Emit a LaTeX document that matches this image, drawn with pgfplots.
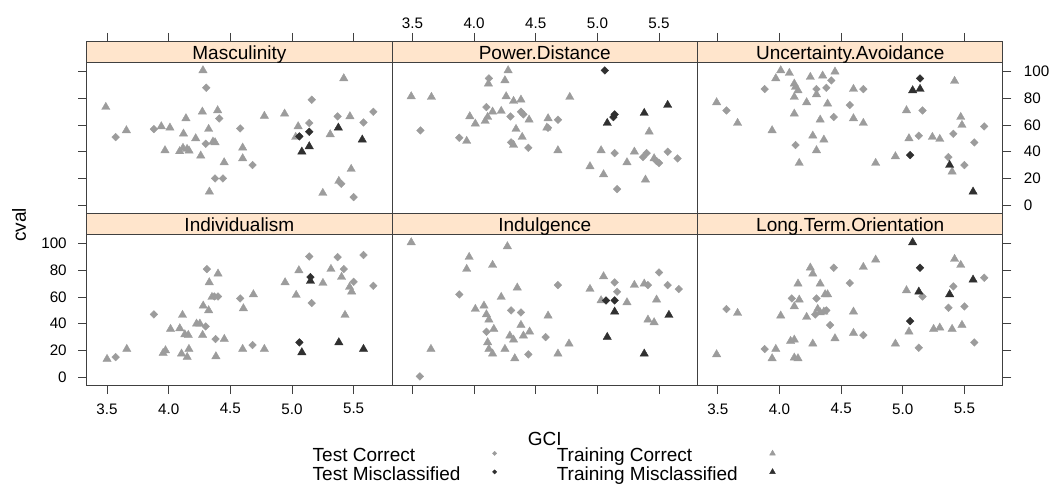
\documentclass[border=0pt]{standalone}
\usepackage{fontspec}
\setmainfont{Liberation Sans}
\usepackage{pgfplots}
\pgfplotsset{compat=1.18}

\definecolor{ptgrey}{HTML}{9C9C9C}
\definecolor{ptdark}{HTML}{303030}
\definecolor{stripcol}{HTML}{FFE5CC}
\definecolor{axcol}{HTML}{404040}

\newcommand{\mainsize}{\fontsize{19}{19}\selectfont}

\pgfplotsset{
  panel/.style={
    scale only axis, width=305.4pt, height=172pt,
    xmin=3.335, xmax=5.812, ymin=-6.3, ymax=122.7,
    xtick={3.5,4,4.5,5,5.5}, ytick={0,20,40,60,80,100},
    tick align=outside, major tick length=8.5pt,
    axis line style={draw=axcol, line width=0.9pt},
    tick style={draw=axcol, line width=0.9pt},
    axis on top, clip=true,
    ticklabel style={font=\fontsize{15.2}{15.2}\selectfont, text=black},
    /pgf/number format/assume math mode=true,
    xticklabels={,,,,,}, yticklabels={,,,,,,},
  },
  xlabtop/.style={xticklabels={3.5,4.0,4.5,5.0,5.5}, xticklabel style={yshift=1pt}},
  xlabbot/.style={xticklabels={3.5,4.0,4.5,5.0,5.5}, xticklabel style={yshift=-6pt}},
  ylableft/.style={yticklabels={0,20,40,60,80,100}, yticklabel style={xshift=-8pt}},
  ylabright/.style={yticklabels={0,20,40,60,80,100}, yticklabel style={xshift=9pt}},
  trc/.style={only marks, mark=triangle*, mark size=4.8pt, color=ptgrey},
  trm/.style={only marks, mark=triangle*, mark size=4.8pt, color=ptdark},
  tc/.style={only marks, mark=square*, mark size=2.7pt, mark options={rotate=45}, color=ptgrey},
  tm/.style={only marks, mark=square*, mark size=2.7pt, mark options={rotate=45}, color=ptdark},
}

\begin{document}
\begin{tikzpicture}
\useasboundingbox (0pt,0pt) rectangle (1049pt,-486pt);

% ---------------- Masculinity ----------------
\begin{axis}[panel, at={(86.7pt,-41.5pt)}, anchor=north west,
  xtick pos=right, ytick pos=left]
\addplot[trc] coordinates {(4.278,101) (3.49,73.5) (3.657,56) (3.94,59) (4.01,58) (4.14,65) (4.273,70) (4.397,71) (4.324,57) (4.12,53.5) (4.219,50) (4.359,47.5) (4.376,47) (3.97,41) (4.089,40.3) (4.116,42.8) (4.149,42) (4.165,40.8) (4.26,37) (4.45,32) (4.6,43) (4.6,35) (4.33,10) (4.776,66.8) (4.94,68.5) (5.05,59) (5.03,51) (5.31,53) (5.47,66.5) (5.42,95) (5.48,27) (5.25,9) (5.38,18)};
\addplot[tc] coordinates {(4.305,88) (3.57,51) (3.88,57) (4.3,46) (4.41,65) (4.58,57.5) (4.68,30) (4.376,20) (4.44,20) (5.16,79) (5.14,61.5) (5.37,66.5) (5.58,62) (5.66,70) (5.4,16) (5.5,6)};
\addplot[trm] coordinates {(5.376,58) (5.57,49) (5.14,44) (5.08,40)};
\addplot[tm] coordinates {(5.14,55) (5.06,51.5)};
\draw[draw=axcol, line width=0.9pt, fill=stripcol] (axis cs:3.335,107) rectangle (axis cs:5.812,122.7);
\node[anchor=base, font=\mainsize, inner sep=0pt] at (axis cs:4.5735,108.9) {Masculinity};
\end{axis}

% ---------------- Power.Distance ----------------
\begin{axis}[panel, at={(392.1pt,-41.5pt)}, anchor=north west,
  xtick pos=right, xticklabel pos=right, xlabtop, ytick=\empty]
\addplot[trc] coordinates {(4.276,101) (4.25,93.5) (4.116,91) (3.49,81.5) (3.654,81) (4.26,81.5) (4.32,78) (4.38,79) (4.776,81) (3.965,66.5) (4.01,61) (4.09,63) (4.11,66) (4.22,70.5) (4.15,70) (4.446,64) (4.6,65) (4.59,58) (4.34,57) (4.39,51) (3.94,48) (4.32,45) (4.68,41) (4.94,29) (5.03,41) (5.05,23) (5.24,32) (5.3,40) (5.42,55) (5.39,19) (5.46,35)};
\addplot[tc] coordinates {(4.12,95) (3.565,56) (3.88,50.5) (4.1,73.5) (4.295,66.5) (4.38,70) (4.4,68) (4.68,64) (4.6,58) (4.3,47) (4.44,43) (5.14,39) (5.16,12) (5.37,36) (5.4,39) (5.48,33) (5.5,31.5) (5.57,40) (5.65,35)};
\addplot[trm] coordinates {(5.08,61.5) (5.38,69) (5.57,75)};
\addplot[tm] coordinates {(5.06,101) (5.14,68) (5.13,66)};
\draw[draw=axcol, line width=0.9pt, fill=stripcol] (axis cs:3.335,107) rectangle (axis cs:5.812,122.7);
\node[anchor=base, font=\mainsize, inner sep=0pt] at (axis cs:4.5735,108.9) {Power.Distance};
\end{axis}

% ---------------- Uncertainty.Avoidance ----------------
\begin{axis}[panel, at={(697.5pt,-41.5pt)}, anchor=north west,
  xtick pos=right, ytick pos=right, yticklabel pos=right, ylabright]
\addplot[trc] coordinates {(3.49,77) (3.66,61.5) (3.97,95) (4.01,101) (4.08,99) (4.12,91) (4.13,88.5) (4.15,86) (4.12,81) (4.22,77) (4.25,96) (4.3,83) (4.35,97) (4.45,100) (4.39,76) (4.33,64) (4.12,68.5) (3.94,56) (4.27,52) (4.36,49) (4.3,41) (4.16,31.5) (4.6,87) (4.6,65) (4.68,61.5) (4.78,31.5) (4.94,36.5) (5.03,71) (5.05,50) (5.24,51) (5.3,49.5) (5.42,93) (5.47,66) (5.48,60) (5.4,25)};
\addplot[tc] coordinates {(3.57,71) (3.88,87) (4.13,45) (4.3,87) (4.38,88) (4.42,93.5) (4.44,66) (4.57,75) (4.68,87) (5.16,71) (5.13,52) (5.41,53.5) (5.37,36) (5.5,30) (5.58,47) (5.66,59)};
\addplot[trm] coordinates {(5.08,86) (5.14,87) (5.38,30) (5.57,10)};
\addplot[tm] coordinates {(5.14,95) (5.06,37.5)};
\draw[draw=axcol, line width=0.9pt, fill=stripcol] (axis cs:3.335,107) rectangle (axis cs:5.812,122.7);
\node[anchor=base, font=\mainsize, inner sep=0pt] at (axis cs:4.5735,108.9) {Uncertainty.Avoidance};
\end{axis}

% ---------------- Individualism ----------------
\begin{axis}[panel, at={(86.7pt,-213.5pt)}, anchor=north west,
  xtick pos=left, xlabbot, ytick pos=left, ylableft]
\addplot[trc] coordinates {(3.5,13.5) (3.66,21) (3.955,18) (3.974,20) (4.015,36) (4.112,46.5) (4.09,36.5) (4.131,32) (4.159,31.5) (4.104,17.5) (4.164,21) (4.15,15) (4.226,40) (4.253,40) (4.28,53.5) (4.329,71) (4.324,50) (4.275,31.5) (4.351,60) (4.4,77.5) (4.383,15.5) (4.451,28.5) (4.606,51.5) (4.687,62) (4.6,21) (4.776,21) (4.944,71) (5.034,61.5) (5.056,80) (5.251,70.5) (5.316,81) (5.402,75) (5.467,67.5) (5.484,64) (5.43,46.5)};
\addplot[tc] coordinates {(3.57,15) (3.88,47) (4.31,81) (4.3,38) (4.37,60.5) (4.4,60.5) (4.38,28.5) (4.58,59) (4.68,24) (5.14,90.5) (5.16,55.5) (5.37,90) (5.42,81) (5.5,71.5) (5.58,91.5) (5.66,68.5)};
\addplot[trm] coordinates {(5.08,18.5) (5.15,72) (5.38,26) (5.58,21)};
\addplot[tm] coordinates {(5.06,26) (5.15,75)};
\draw[draw=axcol, line width=0.9pt, fill=stripcol] (axis cs:3.335,107) rectangle (axis cs:5.812,122.7);
\node[anchor=base, font=\mainsize, inner sep=0pt] at (axis cs:4.5735,108.9) {Individualism};
\end{axis}

% ---------------- Indulgence ----------------
\begin{axis}[panel, at={(392.1pt,-213.5pt)}, anchor=north west,
  xtick pos=left, ytick=\empty]
\addplot[trc] coordinates {(3.49,101) (3.65,21) (3.96,90) (3.94,81) (4.15,84) (4.27,98) (4.01,51) (4.08,53.5) (4.1,47) (4.12,43) (4.16,36) (4.11,26) (4.12,21) (4.15,17.5) (4.25,21) (4.22,60) (4.35,67) (4.38,39) (4.29,31) (4.32,28) (4.4,31) (4.45,34) (4.33,14) (4.6,46) (4.68,17.5) (4.77,25) (4.94,66) (5.05,75.5) (5.03,57.5) (5.24,56) (5.3,69) (5.38,70) (5.48,58) (5.41,43) (5.46,41)};
\addplot[tc] coordinates {(3.56,0.5) (3.88,62) (4.3,50) (4.38,48.5) (4.1,34) (4.58,30) (4.44,17) (4.68,69) (5.14,71) (5.16,64) (5.41,69) (5.5,78.5) (5.57,69) (5.66,66)};
\addplot[trm] coordinates {(5.14,49) (5.08,30) (5.38,17.5) (5.58,46.5)};
\addplot[tm] coordinates {(5.07,57.5) (5.14,57.5)};
\draw[draw=axcol, line width=0.9pt, fill=stripcol] (axis cs:3.335,107) rectangle (axis cs:5.812,122.7);
\node[anchor=base, font=\mainsize, inner sep=0pt] at (axis cs:4.5735,108.9) {Indulgence};
\end{axis}

% ---------------- Long.Term.Orientation ----------------
\begin{axis}[panel, at={(697.5pt,-213.5pt)}, anchor=north west,
  xtick pos=left, xlabbot, ytick pos=right]
\addplot[trc] coordinates {(3.49,17) (3.66,48) (3.94,14) (3.97,21) (4.01,46) (4.09,27) (4.12,28) (4.12,14.5) (4.15,14) (4.12,53) (4.16,58) (4.15,70) (4.22,45) (4.25,82) (4.27,77.5) (4.27,25) (4.31,51) (4.33,48.5) (4.36,49) (4.33,70) (4.37,62) (4.39,62) (4.45,29) (4.6,49) (4.6,33) (4.68,82.5) (4.78,88) (4.94,25) (5.03,65) (5.05,34) (5.25,36) (5.3,37) (5.4,36) (5.48,39) (5.42,88.5) (5.47,84)};
\addplot[tc] coordinates {(3.57,51) (3.88,21) (4.1,59) (4.3,59) (4.29,47) (4.38,50) (4.44,82) (4.41,39) (4.57,70.5) (4.68,31.5) (5.16,60.5) (5.13,22) (5.41,68) (5.37,52) (5.5,53) (5.58,26) (5.66,74.5)};
\addplot[trm] coordinates {(5.08,101) (5.13,64) (5.38,62) (5.57,73)};
\addplot[tm] coordinates {(5.14,82) (5.06,42)};
\draw[draw=axcol, line width=0.9pt, fill=stripcol] (axis cs:3.335,107) rectangle (axis cs:5.812,122.7);
\node[anchor=base, font=\mainsize, inner sep=0pt] at (axis cs:4.5735,108.9) {Long.Term.Orientation};
\end{axis}

% axis titles
\node[rotate=90, font=\mainsize, inner sep=0pt] at (19pt,-225pt) {cval};
\node[anchor=base, font=\mainsize, inner sep=0pt] at (544.8pt,-445pt) {GCI};

% key below the panels
\begin{axis}[at={(0pt,0pt)}, anchor=north west, scale only axis,
  width=1049pt, height=486pt, hide axis,
  xmin=0, xmax=1, ymin=0, ymax=1,
  legend columns=2, legend plot pos=right, legend cell align=left,
  legend image code/.code={\draw[#1, /tikz/only marks] plot coordinates {(0pt,4pt)};},
  legend style={draw=none, fill=none, inner sep=0pt, outer sep=0pt,
    at={(0.2981,0.0778)}, anchor=north west, font=\mainsize,
    nodes={inner sep=0pt, text height=13.5pt, text depth=5pt},
    row sep=0pt,
    /tikz/every odd column/.append style={column sep=32pt},
    /tikz/every even column/.append style={column sep=60pt}},
]
\addlegendimage{mark=square*, mark size=1.5pt, mark options={rotate=45}, color=ptgrey}
\addlegendentry{Test Correct}
\addlegendimage{mark=triangle*, mark size=3.3pt, color=ptgrey}
\addlegendentry{Training Correct}
\addlegendimage{mark=square*, mark size=1.5pt, mark options={rotate=45}, color=ptdark}
\addlegendentry{Test Misclassified}
\addlegendimage{mark=triangle*, mark size=3.3pt, color=ptdark}
\addlegendentry{Training Misclassified}
\end{axis}
\end{tikzpicture}
\end{document}
